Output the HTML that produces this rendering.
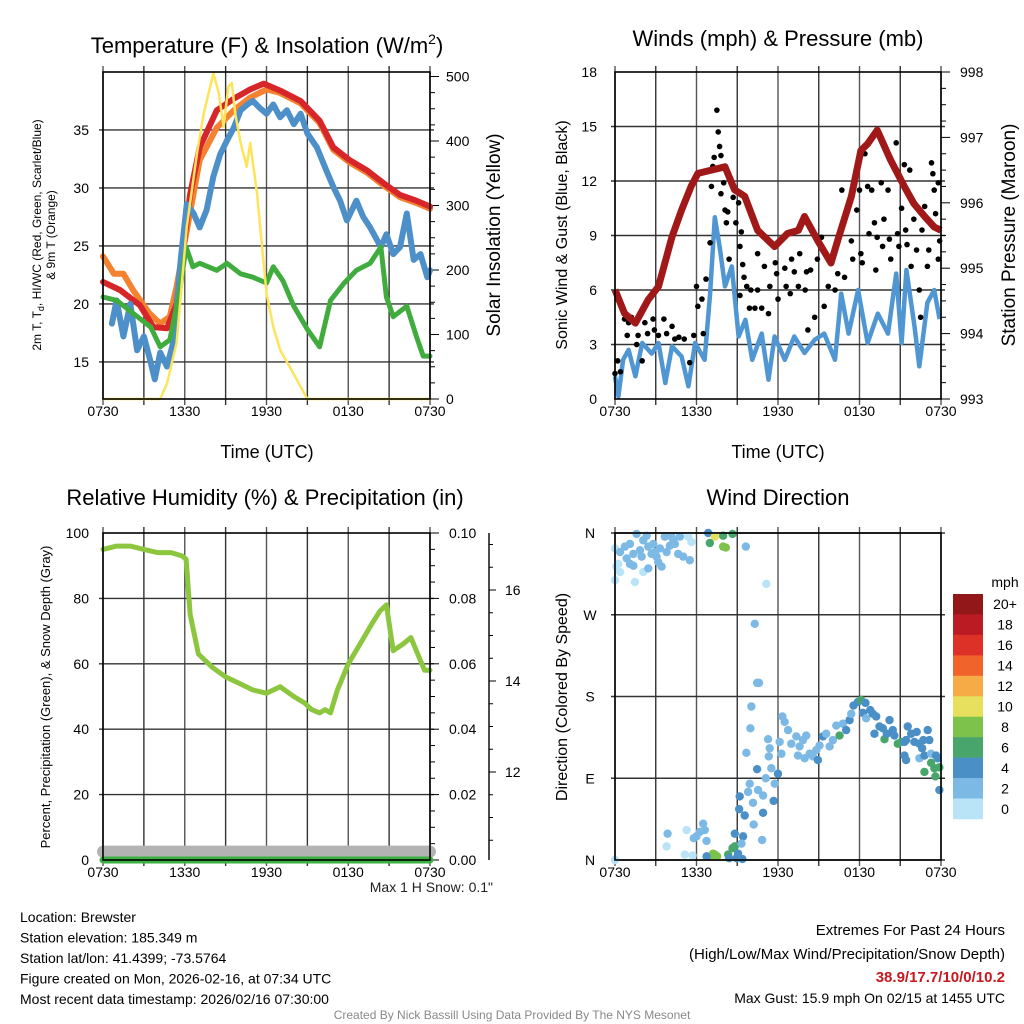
<!DOCTYPE html>
<html><head><meta charset="utf-8">
<style>
html,body{margin:0;padding:0;background:#fff;}
svg{display:block;font-family:"Liberation Sans",Arial,sans-serif;}
</style></head>
<body>
<svg id="c" width="1024" height="1024" viewBox="0 0 1024 1024" xmlns="http://www.w3.org/2000/svg"></svg>
<script>
// ---------- Panel 1 data ----------
const xTickLabels = ["0730","1330","1930","0130","0730"];
const tRedH = [0,1.25,2.7,3.7,4.7,5.4,5.9,6.4,7.1,8.35,9.6,10.8,11.8,13.0,14.5,15.9,16.9,18.1,19.4,20.6,21.8,23.0,24];
const tRedV = [21.9,21.2,19.9,18.0,17.9,20.0,24.9,29.5,33.5,36.7,37.7,38.5,39.0,38.4,37.5,35.8,33.5,32.4,31.5,30.4,29.4,28.9,28.4];
const tOrgH = [0,0.8,1.5,2.2,3.4,4.2,4.9,5.4,6.1,7.1,8.35,9.6,10.8,12.0,13.0,14.5,15.9,16.9,18.1,19.4,20.6,21.8,23.0,24];
const tOrgV = [24.1,22.6,22.6,21.2,19.2,18.3,18.9,21.5,26.0,32.4,35.2,36.7,37.8,38.5,38.2,37.3,35.6,33.3,32.2,31.3,30.2,29.2,28.7,28.2];
const tBluH = [0.65,1.0,1.5,2.0,2.5,3.0,3.45,3.8,4.2,4.7,5.2,5.7,6.15,6.65,7.1,7.6,8.1,8.6,9.1,9.6,10.1,10.6,11.0,11.5,12.0,12.5,13.0,13.5,14.0,14.5,15.0,15.7,16.4,16.9,17.4,17.9,18.6,19.1,19.6,20.4,20.8,21.3,21.8,22.3,22.8,23.3,23.8,24];
const tBluV = [18.3,20.3,17.2,20.0,16.0,17.2,15.2,13.5,15.8,14.6,16.9,23.8,28.6,27.8,26.6,28.1,31.0,32.9,34.1,35.2,36.7,37.2,37.5,36.9,36.4,37.2,36.1,36.7,35.5,36.4,34.7,33.5,31.5,30.1,28.9,27.2,28.9,27.5,26.6,24.9,26.0,24.3,24.9,27.8,23.8,24.3,22.3,22.9];
const tGrnH = [0,1.0,2.2,3.5,4.2,4.9,5.6,6.1,6.6,7.1,8.35,9.1,10.1,11.0,12.0,12.5,13.2,14.0,15.0,15.9,16.7,17.7,18.6,19.6,20.4,20.8,21.3,22.3,23.0,23.5,24];
const tGrnV = [20.6,20.3,19.2,18.0,16.3,16.9,20.9,24.9,23.2,23.5,22.9,23.5,22.6,22.3,21.8,23.2,22.0,19.8,17.8,16.3,20.3,21.8,22.9,23.5,24.9,20.6,18.9,19.8,17.2,15.5,15.5];
const solH = [0,4.2,4.7,5.4,6.15,6.9,7.4,8.1,8.5,8.85,9.2,9.45,9.7,10.1,10.55,10.8,11.3,11.65,12.0,12.5,13.0,13.7,14.5,15.0,24];
const solV = [0,0,24,87,267,381,443,505,474,422,484,490,443,397,360,397,319,242,164,112,76,50,19,0,0];
// ---------- Panel 2 data ----------
const presH = [0,0.7,1.5,2.45,3.2,4.2,4.9,5.6,6.1,7.1,8.1,8.8,9.55,10.5,11.75,12.7,13.5,13.95,14.9,15.9,16.4,17.4,18.1,18.6,19.3,20.3,21.3,22.0,22.8,23.5,24];
const presV = [994.67,994.31,994.16,994.52,994.72,995.48,995.89,996.25,996.45,996.5,996.55,996.2,996.1,995.58,995.33,995.53,995.58,995.79,995.43,995.08,995.43,996.1,996.8,996.9,997.11,996.65,996.25,995.99,995.79,995.63,995.58];
const windH = [0,0.25,0.6,1.0,1.5,2.0,2.7,3.2,3.7,4.2,4.9,5.4,5.9,6.6,7.0,7.35,7.7,8.1,8.6,9.1,9.6,10.1,10.8,11.3,11.75,12.5,13.2,13.95,14.7,15.4,16.2,16.65,17.2,17.9,18.6,19.35,20.1,20.7,21.1,21.45,22.05,22.4,23.0,23.5,23.9];
const windV = [1.25,0.15,2.16,2.7,1.25,3.08,2.5,3.08,0.88,2.9,2.34,0.7,3.08,2.16,5.8,10.0,8.4,6.2,7.3,3.44,4.36,2.16,3.6,1.06,3.44,2.16,3.44,2.53,3.26,3.6,2.16,5.8,3.6,6.0,3.08,4.7,3.6,6.9,3.08,7.1,4.0,1.8,5.3,6.0,4.4];
const gustH = [0.0,0.2,0.4,0.7,1.0,0.9,1.2,1.6,1.7,2.0,2.2,2.4,2.8,2.9,3.2,3.6,3.8,4.2,4.4,4.7,5.1,5.5,5.8,6.0,6.1,6.4,6.5,6.7,7.0,7.1,7.2,7.3,7.5,7.6,7.7,7.8,8.0,7.8,8.1,8.3,8.2,8.4,8.7,8.9,9.1,9.2,9.3,9.2,9.4,9.5,9.7,9.9,10.0,10.3,10.5,10.8,10.5,11.0,11.3,11.4,11.8,11.9,12.0,12.5,12.6,12.9,13.0,13.2,13.5,13.6,14.0,14.1,14.2,14.4,14.7,14.9,15.2,15.4,15.7,15.9,16.2,16.4,16.7,16.8,16.9,17.4,17.5,17.8,18.0,18.1,18.2,18.4,18.6,18.7,18.9,19.1,19.2,19.3,19.6,19.7,19.8,20.1,20.2,20.3,20.7,20.8,20.9,21.1,21.3,21.4,21.5,21.7,21.8,22.0,22.2,22.4,22.5,22.6,22.8,23.0,23.1,23.3,23.4,23.5,23.6,23.8,23.9,23.8];
const gustV = [1.4,2.1,1.5,4.4,4.2,3.5,4.5,3.0,3.5,2.1,4.2,3.6,4.4,3.8,3.5,4.4,3.6,4.0,3.3,3.4,3.3,2.0,3.5,6.2,5.1,5.5,3.6,6.6,8.6,11.7,12.8,13.3,15.9,14.7,13.9,13.4,11.9,11.3,10.4,10.3,9.7,7.7,11.1,9.7,10.8,8.4,9.2,5.7,7.4,6.7,6.2,5.0,6.0,5.0,6.0,5.0,8.0,7.3,4.7,6.2,7.5,6.9,5.5,7.2,6.2,5.8,7.7,7.0,6.2,8.0,6.0,7.0,3.8,7.1,4.5,7.7,8.9,5.1,6.2,7.7,6.0,6.9,11.5,9.7,6.7,8.7,7.7,10.4,11.5,8.0,7.5,13.5,11.7,9.1,11.5,9.7,7.1,8.9,11.9,8.4,9.9,11.5,8.8,7.7,14.1,9.1,8.4,10.5,12.9,9.3,8.5,12.6,7.3,9.9,8.2,6.0,4.5,9.3,10.6,7.3,8.2,13.0,12.4,11.5,10.2,11.9,8.7,7.7];
// ---------- Panel 3 data ----------
const rhH = [0,1,2,3,4,5,5.8,6.1,6.4,7.0,8.0,9.0,10.0,11.0,12.0,13.0,14.0,14.8,15.3,15.9,16.3,16.7,17.2,18.0,19.0,19.7,20.3,20.8,21.3,22.0,22.6,23.2,23.6,24];
const rhV = [95,96,96,95,94,94,93,92,75,63,59,56,54,52,51,53,50,48,46,45,46,45,52,60,67,72,76,78,64,66,68,62,58,58];
const precipH = [0,24];
const precipV = [0,0];
const snowH = [0,24];
const snowV = [10.25,10.25];
// ---------- Panel 4 data ----------
const wdH = [0,0.37,0.73,1.1,1.35,1.59,1.84,2.08,2.33,2.45,2.69,2.82,3.06,3.31,3.43,3.67,3.8,4.04,4.16,4.41,4.65,4.78,5.02,5.39,5.51,5.63,0.24,0.37,0,1.47,2.08,2.45,1.35,0.86,1.96,3.18,4.29,0.1,1.1,2.94,
 6.86,7.35,7.96,6.98,7.96,8.16,8.65,9.63,11.14,
 10.29,10.46,10.6,10.04,9.97,12.32,12.49,11.27,11.39,12.12,12.25,11.32,9.67,10.46,11.51,12.0,11.1,11.76,9.92,9.8,10.53,10.9,10.16,9.18,9.55,10.9,11.68,10.21,10.83,9.14,
 12.74,12.98,13.35,13.59,13.84,14.08,13.47,13.96,14.33,14.57,14.82,14.94,15.06,15.31,15.55,15.8,16.04,16.29,16.53,16.78,17.02,17.27,17.39,17.56,17.88,18.12,18.44,18.25,18.49,18.79,18.98,19.23,19.1,19.47,19.72,19.84,20.01,20.21,20.45,20.57,20.82,21.06,21.31,21.43,21.55,21.8,22.04,22.21,22.41,22.61,22.7,23.02,23.14,22.41,22.78,23.27,23.63,23.76,23.27,23.51,22.78,23.88,23.59,23.88,21.31,21.43,
 0,3.87,3.8,5.27,6.0,6.25,6.49,6.61,6.74,5.14,5.71,5.8,7.1,7.35,7.52,7.22,8.33,8.65,8.82,8.82,9.43,9.31,9.06,8.94,9.38,6.74,8.4];
const wdDir = [343,339,345,348,337,359,341,352,357,345,337,348,334,343,323,356,339,346,356,348,337,356,334,356,330,350,326,317,308,306,317,321,324,332,334,328,352,323,326,339,
 360,356,357,349,345,344,359,345,304,
 260,195,195,169,145,158,152,133,123,130,117,114,118,100,101,95,90,84,84,75,77,71,63,70,49,52,65,39,22,56,
 143,128,136,125,132,137,115,112,117,114,121,110,126,136,139,125,132,148,137,150,143,154,161,170,174,176,173,162,156,165,161,158,139,147,145,133,139,154,143,137,128,130,130,132,147,139,130,141,128,123,132,143,132,112,115,117,115,112,107,101,97,102,92,77,115,110,
 0,29,15,33,26,31,40,33,21,6,5,24,5,6,4,7,6,13,15,29,26,18,7,2,1,4,2];
const wdSpd = [1,3,3,3,3,3,3,3,3,3,3,3,3,3,3,3,3,3,3,3,3,3,3,1,3,1,1,1,1,1,1,3,3,3,3,3,3,1,3,3,
 5,11,7,7,9,9,7,3,1,
 3,3,3,3,3,3,3,3,3,3,3,3,3,5,3,5,3,3,3,3,3,3,3,5,5,5,5,3,3,5,
 3,3,3,3,3,3,3,3,3,3,3,5,3,5,3,3,3,3,7,3,5,5,3,5,5,7,5,5,3,5,5,5,5,5,5,7,5,5,5,5,7,7,5,5,5,5,5,5,5,5,5,5,5,3,5,3,5,5,7,7,7,7,7,5,5,5,
 1,3,1,1,3,3,3,3,3,1,1,3,9,9,9,9,7,7,7,5,5,3,5,5,5,5,5];
const cbLabels = ["20+","18","16","14","12","10","8","6","4","2","0"];
const cbColors = ["#911718","#bb1c23","#dd3127","#f0632b","#f6ab47","#e6e05c","#7cc24b","#48a56b","#4a8fc6","#7db9e5","#b9e4f7"];

// ---------- helpers ----------
const NS="http://www.w3.org/2000/svg";
const svg=document.getElementById('c');
function mk(tag,attrs,parent){const e=document.createElementNS(NS,tag);for(const k in attrs)e.setAttribute(k,attrs[k]);(parent||svg).appendChild(e);return e;}
function txt(s,x,y,size,anchor,parent,extra){const t=mk('text',Object.assign({x:x,y:y,'font-size':size,'text-anchor':anchor||'middle',fill:'#000'},extra||{}),parent);t.textContent=s;return t;}
function lin(d0,d1,r0,r1){return v=>r0+(v-d0)*(r1-r0)/(d1-d0);}
function pathFrom(xs,ys,fx,fy){return xs.map((v,i)=>(i?'L':'M')+fx(v).toFixed(1)+','+fy(ys[i]).toFixed(1)).join(' ');}

function frame(g,L,T,R,B){
  for(let i=0;i<=8;i++){const x=L+(R-L)*i/8;
    const gl=mk('line',{x1:x,y1:T-6,x2:x,y2:B+6,stroke:i%2?'#333':'#555','stroke-width':1.4},g);
    
    }
  const xs=lin(0,24,L,R);
  xTickLabels.forEach((s,i)=>{const t=txt(s,xs(i*6),B+17,14,'middle',g);
    
    });
}
function hgrid(g,L,R,ys){ys.forEach(y=>{const l=mk('line',{x1:L-4,y1:y,x2:R+4,y2:y,stroke:'#333','stroke-width':1.4},g);
  
  });}
function box(g,L,T,R,B){const r=mk('rect',{x:L,y:T,width:R-L,height:B-T,fill:'none',stroke:'#000','stroke-width':1.6},g);
  
  }

// ================= Panel 1 =================
(function(){
  const L=103,T=72,R=430,B=399;
  const g=mk('g',{});  
  const fx=lin(0,24,L,R), fy=lin(11.8,40,B,T), fs=lin(0,500,B,76.5);
  frame(g,L,T,R,B);
  hgrid(g,L,R,[15,20,25,30,35].map(fy));
  [15,20,25,30,35].forEach(v=>{const t=txt(String(v),89,fy(v)+5,14,'end',g);
    
    });
  for(let v=0;v<=500;v+=25){const y=fs(v);mk('line',{x1:R,y1:y,x2:R+(v%100?5:9),y2:y,stroke:'#000','stroke-width':1},g);}
  for(let v=0;v<=500;v+=100){const t=txt(String(v),446,fs(v)+5,14,'start',g);
    
    }
  const series=[[tOrgH,tOrgV,'#f58231',6,'orange-9m-temp-line'],[tRedH,tRedV,'#d7262a',6,'red-2m-temp-line'],[tBluH,tBluV,'#4d8fc9',6,'blue-windchill-line'],[tGrnH,tGrnV,'#41ac3e',5,'green-dewpoint-line']];
  series.forEach(s=>{const p=mk('path',{d:pathFrom(s[0],s[1],fx,fy),fill:'none',stroke:s[2],'stroke-width':s[3],'stroke-linejoin':'round','stroke-linecap':'round'},g);
    
    });
  const sp=mk('path',{d:pathFrom(solH,solV,fx,fs),fill:'none',stroke:'#fde45b','stroke-width':2.5,'stroke-linejoin':'round'},g);
  
  
  box(g,L,T,R,B);
  const ti=mk('text',{x:267,y:53,'font-size':22,'text-anchor':'middle'},g);
  ti.innerHTML='Temperature (F) &amp; Insolation (W/m<tspan dy="-9" font-size="14">2</tspan><tspan dy="9">)</tspan>';
  
  
  const xt=txt('Time (UTC)',267,458,18,'middle',g);  
  const y1=mk('text',{x:0,y:0,'font-size':12,'text-anchor':'middle',transform:'translate(41,235) rotate(-90)'},g);
  y1.innerHTML='2m T, T<tspan dy="3" font-size="9">d</tspan><tspan dy="-3">, HI/WC (Red, Green, Scarlet/Blue)</tspan>';
  
  
  const y2=txt('& 9m T (Orange)',0,0,12,'middle',g,{transform:'translate(55,235) rotate(-90)'});
  
  
  const y3=txt('Solar Insolation (Yellow)',0,0,19,'middle',g,{transform:'translate(500,235) rotate(-90)'});
  
  
})();

// ================= Panel 2 =================
(function(){
  const L=615,T=72,R=941,B=399;
  const g=mk('g',{});  
  const fx=lin(0,24,L,R), fy=lin(0,18,B,T), fp=lin(993,998,B,T);
  frame(g,L,T,R,B);
  hgrid(g,L,R,[3,6,9,12,15].map(fy));
  for(let v=0;v<=18;v+=3){const t=txt(String(v),597,fy(v)+5,14,'end',g);
    
    }
  for(let v=993;v<=998.001;v+=0.25){const y=fp(v);mk('line',{x1:R,y1:y,x2:R+(Math.abs(v-Math.round(v))<0.01?9:5),y2:y,stroke:'#000','stroke-width':1},g);}
  for(let v=993;v<=998;v++){const t=txt(String(v),960,fp(v)+5,14,'start',g);
    
    }
  const wp=mk('path',{d:pathFrom(windH,windV,fx,fy),fill:'none',stroke:'#4f96d3','stroke-width':4.5,'stroke-linejoin':'round'},g);
  
  
  gustH.forEach((h,i)=>{const c=mk('circle',{cx:fx(h),cy:fy(gustV[i]),r:2.8,fill:'#000'},g);
    
    });
  const pp=mk('path',{d:pathFrom(presH,presV,fx,fp),fill:'none',stroke:'#a01818','stroke-width':7,'stroke-linejoin':'round'},g);
  
  
  box(g,L,T,R,B);
  const ti=txt('Winds (mph) & Pressure (mb)',778,46,22,'middle',g);  
  const xt=txt('Time (UTC)',778,458,18,'middle',g);  
  const y1=txt('Sonic Wind & Gust (Blue, Black)',0,0,16,'middle',g,{transform:'translate(567,235) rotate(-90)'});
   
  const y2=txt('Station Pressure (Maroon)',0,0,19,'middle',g,{transform:'translate(1015,235) rotate(-90)'});
   
})();

// ================= Panel 3 =================
(function(){
  const L=103,T=533,R=430,B=860;
  const g=mk('g',{});  
  const fx=lin(0,24,L,R), fy=lin(0,100,B,T), fq=lin(0,0.1,B,T), fsn=lin(12,14,772,681);
  frame(g,L,T,R,B);
  hgrid(g,L,R,[20,40,60,80].map(fy));
  for(let v=0;v<=100;v+=20){const t=txt(String(v),89,fy(v)+5,14,'end',g);
     }
  for(let v=0;v<=100;v+=5){const y=fy(v);mk('line',{x1:R,y1:y,x2:R+(v%20?5:9),y2:y,stroke:'#000','stroke-width':1},g);}
  for(let v=0;v<=5;v++){const t=txt((v*0.02).toFixed(2),449,fq(v*0.02)+5,14,'start',g);
     }
  const sa=mk('line',{x1:489,y1:533,x2:489,y2:860,stroke:'#000','stroke-width':1.4},g);
   
  for(let v=10.5;v<=17.5;v+=0.5){const y=fsn(v);if(y<533||y>860)continue;mk('line',{x1:489,y1:y,x2:489+(v%2===0?7:4),y2:y,stroke:'#000','stroke-width':1},g);}
  [12,14,16].forEach(v=>{const t=txt(String(v),505,fsn(v)+5,14,'start',g);
     });
  const sn=mk('path',{d:pathFrom(snowH,snowV,fx,fsn),fill:'none',stroke:'#b3b3b3','stroke-width':12,'stroke-linecap':'round'},g);
   
  const pr=mk('path',{d:pathFrom(precipH,precipV,fx,fq),fill:'none',stroke:'#3cb043','stroke-width':7,'stroke-linecap':'round'},g);
   
  const rh=mk('path',{d:pathFrom(rhH,rhV,fx,fy),fill:'none',stroke:'#8cc63f','stroke-width':5,'stroke-linejoin':'round','stroke-linecap':'round'},g);
   
  box(g,L,T,R,B);
  const ti=txt('Relative Humidity (%) & Precipitation (in)',265,505,22,'middle',g);  
  const yt=txt('Percent, Precipitation (Green), & Snow Depth (Gray)',0,0,13,'middle',g,{transform:'translate(50,697) rotate(-90)'});
   
  const ms=txt('Max 1 H Snow: 0.1"',493,892,14,'end',g,{fill:'#222'});  
})();

// ================= Panel 4 =================
(function(){
  const L=615,T=533,R=941,B=860;
  const g=mk('g',{});  
  const fx=lin(0,24,L,R), fy=lin(0,360,B,T);
  frame(g,L,T,R,B);
  hgrid(g,L,R,[90,180,270,360,0].map(fy));
  ['N','E','S','W','N'].forEach((s,i)=>{const t=txt(s,590,fy(i*90)+5,14,'middle',g);
     });
  function col(s){const idx=Math.min(10,Math.floor(s/2));return cbColors[10-idx];}
  wdH.forEach((h,i)=>{const c=mk('circle',{cx:fx(h),cy:fy(wdDir[i]),r:4.2,fill:col(wdSpd[i])},g);
     });
  box(g,L,T,R,B);
  const ti=txt('Wind Direction',778,505,22,'middle',g);  
  const yt=txt('Direction (Colored By Speed)',0,0,16,'middle',g,{transform:'translate(567,697) rotate(-90)'});
   
  const cb=mk('g',{},g);  
  const bh=225/11;
  cbColors.forEach((c,i)=>{const r=mk('rect',{x:953,y:594+i*bh,width:30,height:bh+0.3,fill:c},cb);
     
    const t=txt(cbLabels[i],1005,594+i*bh+bh/2+5,14,'middle',cb);
     });
  const u=txt('mph',1005,587,14,'middle',cb);  
})();

// ================= Footer =================
(function(){
  const g=mk('g',{});  
  const left=['Location: Brewster','Station elevation: 185.349 m','Station lat/lon: 41.4399; -73.5764','Figure created on Mon, 2026-02-16, at 07:34 UTC','Most recent data timestamp: 2026/02/16 07:30:00'];
  left.forEach((s,i)=>{const t=txt(s,20,922+i*20.5,14,'start',g);
     });
  const r1=txt('Extremes For Past 24 Hours',1005,935,15,'end',g);  
  const r2=txt('(High/Low/Max Wind/Precipitation/Snow Depth)',1005,959,15,'end',g);  
  const r3=txt('38.9/17.7/10/0/10.2',1005,982,15,'end',g,{fill:'#c8181e','font-weight':'bold'});  
  const r4=txt('Max Gust: 15.9 mph On 02/15 at 1455 UTC',1005,1003,14,'end',g);  
  const cr=txt('Created By Nick Bassill Using Data Provided By The NYS Mesonet',512,1019,12,'middle',g,{fill:'#888'});  
})();
</script>
</body></html>
